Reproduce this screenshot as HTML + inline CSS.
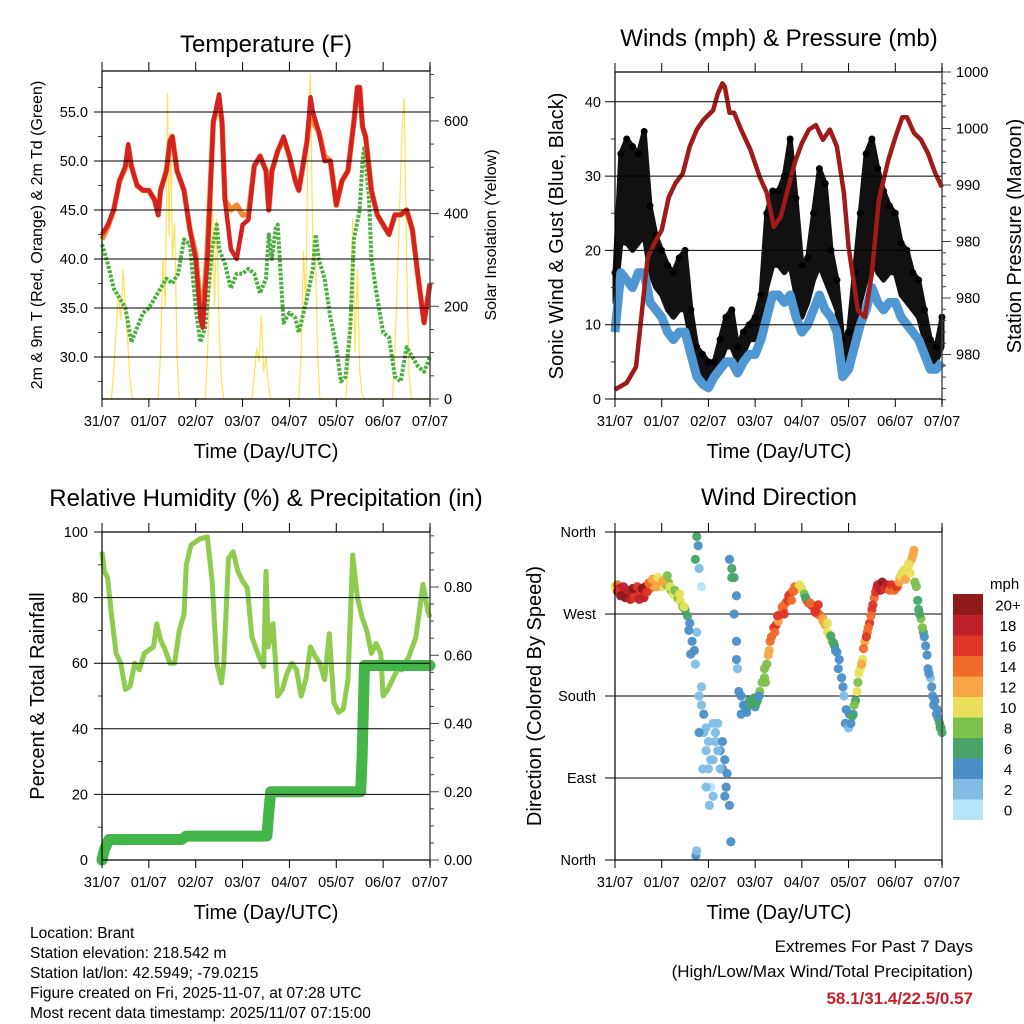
<!DOCTYPE html>
<html><head><meta charset="utf-8"><style>
html,body{margin:0;padding:0;background:#fff;width:1024px;height:1024px;overflow:hidden}
svg{display:block;font-family:"Liberation Sans",sans-serif}
</style></head><body>
<svg id="fig" width="1024" height="1024" viewBox="0 0 1024 1024">
<text x="266" y="52" font-size="24" text-anchor="middle">Temperature (F)</text>
<text x="779" y="46" font-size="24" text-anchor="middle">Winds (mph) &amp; Pressure (mb)</text>
<text x="266" y="506" font-size="24" text-anchor="middle">Relative Humidity (%) &amp; Precipitation (in)</text>
<text x="779" y="505" font-size="24" text-anchor="middle">Wind Direction</text>
<text x="266" y="458" font-size="20" text-anchor="middle">Time (Day/UTC)</text>
<text x="779" y="458" font-size="20" text-anchor="middle">Time (Day/UTC)</text>
<text x="266" y="919" font-size="20" text-anchor="middle">Time (Day/UTC)</text>
<text x="779" y="919" font-size="20" text-anchor="middle">Time (Day/UTC)</text>
<text transform="translate(42,235) rotate(-90)" font-size="16" text-anchor="middle">2m &amp; 9m T (Red, Orange) &amp; 2m Td (Green)</text>
<text transform="translate(496,235) rotate(-90)" font-size="16" text-anchor="middle">Solar Insolation (Yellow)</text>
<text transform="translate(563,236) rotate(-90)" font-size="20" text-anchor="middle">Sonic Wind &amp; Gust (Blue, Black)</text>
<text transform="translate(1021,236) rotate(-90)" font-size="20" text-anchor="middle">Station Pressure (Maroon)</text>
<text transform="translate(44,696) rotate(-90)" font-size="20" text-anchor="middle">Percent &amp; Total Rainfall</text>
<text transform="translate(541,696) rotate(-90)" font-size="20" text-anchor="middle">Direction (Colored By Speed)</text>
<g font-size="15.5">
<text x="30" y="938">Location: Brant</text>
<text x="30" y="958">Station elevation: 218.542 m</text>
<text x="30" y="978">Station lat/lon: 42.5949; -79.0215</text>
<text x="30" y="998">Figure created on Fri, 2025-11-07, at 07:28 UTC</text>
<text x="30" y="1018">Most recent data timestamp: 2025/11/07 07:15:00</text>
</g>
<text x="973" y="952" font-size="17" text-anchor="end">Extremes For Past 7 Days</text>
<text x="973" y="977" font-size="17" text-anchor="end">(High/Low/Max Wind/Total Precipitation)</text>
<text x="973" y="1004" font-size="17" font-weight="bold" fill="#c8202a" text-anchor="end">58.1/31.4/22.5/0.57</text>
</svg>
<script>
// ---------- DATA ----------
const dayLabels = ["31/07","01/07","02/07","03/07","04/07","05/07","06/07","07/07"];
const tempTime = [0,0.125,0.25,0.375,0.5,0.56,0.625,0.75,0.875,1.0,1.125,1.2,1.25,1.375,1.45,1.5,1.6,1.75,1.875,2.0,2.1,2.15,2.25,2.375,2.5,2.56,2.625,2.75,2.875,3.0,3.125,3.25,3.375,3.5,3.56,3.625,3.75,3.875,4.0,4.125,4.2,4.375,4.45,4.5,4.625,4.75,4.875,5.0,5.125,5.25,5.375,5.45,5.5,5.56,5.625,5.75,5.875,6.0,6.125,6.25,6.375,6.5,6.625,6.75,6.875,7.0];
const temp2m = [42.5,43.5,45,48,49.5,51.7,49.5,47.5,47,47,46,44.5,47,49,52,52.5,49,47,43,40,34,33,40,54,56.8,54,46,41,40,43.5,44,49.5,50.5,49,45,49,51,52.5,50.5,48,47,52,56.5,55,53,50,50,45.5,48,49,54,57.5,57.5,53.5,52.5,47,44.5,43.5,42.5,44.5,44.5,45,43,38,33.5,37.5];
const temp9m = [42,43.3,45,48,49.3,51.5,49.5,47.5,47,47,46,44.5,47,49,52,52.5,49,47,43,40.5,35,34,41,54,56,54,46,45,45.5,44.5,44.5,49.5,50.5,49,45,49,51,52.3,50.5,48,47,52,55.5,54,53,50.5,50,45.5,48,49,54,57.5,57.5,53.5,52.5,47,44.5,43.5,42.5,44.5,44.5,45,43,38,33.5,37.5];
const dewTime = [0,0.125,0.25,0.375,0.5,0.625,0.75,0.875,1.0,1.125,1.25,1.375,1.5,1.625,1.75,1.875,2.0,2.1,2.2,2.35,2.45,2.5,2.625,2.75,2.875,3.0,3.125,3.25,3.375,3.5,3.56,3.625,3.7,3.75,3.875,4.0,4.125,4.2,4.375,4.5,4.56,4.625,4.75,4.875,5.0,5.1,5.2,5.3,5.375,5.5,5.56,5.6,5.7,5.75,5.875,6.0,6.125,6.25,6.375,6.5,6.625,6.75,6.875,7.0];
const dewpoint = [41.5,39.5,37,36,35,31.5,33,34.5,35,36,37,38,37.5,38.5,42,41.5,35,31.5,33,41,43.5,41,39.5,37,38.5,38.5,39,38.5,36.5,38,42.5,40,43,43.5,33.5,34.5,34,32.5,36,39,42.5,40,38,34,31,27.5,28,33,42,45,50,51.5,46,40,36,32.5,32,28,27.5,31,30,29,28.5,30];
const solarTime = [0,0.2,0.25,0.3,0.35,0.4,0.45,0.5,0.55,0.6,0.65,1.2,1.25,1.3,1.35,1.4,1.43,1.47,1.5,1.55,1.6,1.65,2.2,2.25,2.3,2.35,2.4,2.45,2.5,2.55,2.6,3.2,3.25,3.3,3.35,3.4,3.45,3.5,3.55,3.6,4.2,4.25,4.3,4.35,4.4,4.45,4.5,4.55,4.6,4.65,5.2,5.25,5.3,5.35,5.4,5.45,5.5,5.55,5.6,6.2,6.25,6.3,6.35,6.4,6.45,6.5,6.55,6.6,7.0];
const solar = [0,0,60,150,230,170,280,200,120,40,0,0,100,300,200,660,350,570,300,380,100,0,0,90,250,440,200,390,150,40,0,0,50,110,80,180,60,90,30,0,0,100,320,200,600,700,300,320,100,0,0,60,150,390,100,280,60,10,0,0,100,250,400,580,650,300,60,0,0];
const windTime = [0,0.125,0.25,0.375,0.5,0.625,0.75,0.875,1.0,1.125,1.25,1.375,1.5,1.625,1.75,1.875,2.0,2.125,2.25,2.375,2.5,2.625,2.75,2.875,3.0,3.125,3.25,3.375,3.5,3.625,3.75,3.875,4.0,4.125,4.25,4.375,4.5,4.625,4.75,4.875,5.0,5.125,5.25,5.375,5.5,5.625,5.75,5.875,6.0,6.125,6.25,6.375,6.5,6.625,6.75,6.875,7.0];
const windSpeed = [9,17,16,15,17,17,13,12,11,9,8,9,9,6,3,2,1.5,3,4,5,5,3.5,5,6,6,8,11,14,14,13,14,11,9,10,12,14,12,11,9,3,4,7,10,12,15,13,12,13,13,11,10,9,8,6,4,4,5];
const gustHigh = [17,33,35,34,33,36,26,22,20,18,17,19,20,12,7,6,5,5,8,11,12,7,9,10,11,14,25,28,28,30,35,27,18,19,25,31,29,20,16,8,9,17,25,33,35,31,28,26,25,21,20,17,16,12,8,7,11];
const gustLow = [13,21,21,20,21,22,17,15,14,12,11,12,12,8,4,3,2,4,5,7,7,5,6,8,8,10,15,18,18,17,18,14,11,13,16,18,16,14,12,4,5,9,13,16,19,17,16,17,17,14,13,12,11,8,5,5,7];
const presTime = [0,0.25,0.45,0.55,0.7,0.85,1.0,1.15,1.3,1.45,1.6,1.75,1.9,2.1,2.2,2.3,2.35,2.45,2.55,2.7,2.9,3.1,3.25,3.4,3.55,3.7,3.85,4.0,4.15,4.3,4.45,4.6,4.75,4.9,5.0,5.2,5.35,5.5,5.65,5.85,6.0,6.15,6.25,6.4,6.55,6.7,6.85,7.0];
const pressure = [971.9,972.5,973.9,977.8,983.6,984.9,986,988.9,990.2,991,993.4,994.9,995.8,996.6,998.1,999,998.7,996.4,996.4,994.9,993.1,990.7,989.3,986.3,987.2,989.6,992,993.7,994.9,995.3,994,994.9,993.4,989.3,984.5,978.9,978.3,982.2,988.7,992.2,994.2,996,996,994.6,994,992.8,991.1,989.8];
const presTicks = [1000,995,990,985,980,975];
const presTickLabels = ["1000","1000","990","980","980","980"];
const rhTime = [0,0.05,0.12,0.2,0.3,0.4,0.5,0.6,0.7,0.8,0.9,1.0,1.1,1.17,1.25,1.35,1.45,1.55,1.65,1.75,1.8,1.9,2.1,2.25,2.35,2.45,2.55,2.6,2.7,2.8,2.9,3.0,3.1,3.2,3.35,3.45,3.5,3.55,3.65,3.75,3.85,3.95,4.05,4.15,4.25,4.35,4.45,4.55,4.65,4.75,4.85,4.95,5.05,5.15,5.25,5.35,5.45,5.55,5.65,5.75,5.85,5.95,6.0,6.1,6.2,6.3,6.4,6.55,6.7,6.85,6.95,7.0];
const rhValues = [94,88,86,75,63,60,52,53,60,58,63,64,65,72,67,64,60,60,70,75,90,96,98,98.5,85,60,54,60,92,94,88,85,83,68,62,59,88,65,72,50,52,57,60,58,50,55,65,62,60,55,69,48,45,46,55,93,80,74,70,63,66,63,50,52,55,58,58,62,68,84,76,74];
const rainTime = [0,0.05,0.15,1.7,1.8,3.52,3.56,3.6,5.52,5.55,5.58,5.6,7];
const rainTotal = [0,0.03,0.06,0.06,0.07,0.07,0.14,0.2,0.2,0.3,0.46,0.57,0.57];
const dirTime = [0,0.05,0.1,0.15,0.2,0.25,0.3,0.35,0.4,0.45,0.5,0.55,0.6,0.65,0.7,0.75,0.8,0.85,0.9,0.95,1.0,1.05,1.1,1.15,1.2,1.25,1.3,1.35,1.4,1.45,1.5,1.55,1.6,1.65,1.7,1.72,1.73,1.75,1.75,1.78,1.8,1.8,1.85,1.85,1.9,1.95,2.0,2.05,2.1,2.15,2.2,2.25,2.3,2.35,2.45,2.5,2.55,2.55,2.6,2.6,2.62,2.7,2.75,2.8,2.85,2.9,2.95,3.0,3.05,3.1,3.15,3.2,3.25,3.3,3.35,3.4,3.45,3.5,3.55,3.6,3.65,3.7,3.75,3.8,3.85,3.9,4.0,4.05,4.1,4.15,4.2,4.25,4.3,4.35,4.4,4.45,4.5,4.55,4.6,4.65,4.7,4.75,4.8,4.85,4.9,4.93,5.0,5.05,5.1,5.15,5.2,5.25,5.3,5.35,5.4,5.45,5.5,5.55,5.6,5.65,5.7,5.75,5.8,5.85,5.9,5.95,6.0,6.05,6.1,6.15,6.2,6.25,6.3,6.35,6.4,6.45,6.5,6.55,6.6,6.65,6.7,6.75,6.8,6.85,6.9,6.92,6.96,7.0,
0.05,0.12,0.18,0.22,0.28,0.33,0.38,0.42,0.48,0.52,0.58,0.62,0.68,0.72,0.8,0.88,0.92,1.02,1.12,1.18,1.28,1.38,1.48,1.58,1.62,1.85,1.9,1.95,2.0,2.05,2.1,2.15,2.2,2.25,2.3,2.35,2.4,2.38,1.8,1.88,1.95,2.02,2.1,1.75,1.72,2.45,2.48,2.5,2.6,2.65,2.7,2.78,2.82,2.88,2.92,2.98,3.02,3.08,3.2,3.22,3.28,3.32,3.42,3.48,3.58,3.62,3.72,3.78,3.82,3.95,4.08,4.18,4.28,4.35,4.45,4.55,4.62,4.68,4.72,4.78,4.88,4.95,5.02,5.08,5.12,5.18,5.22,5.28,5.32,5.38,5.42,5.48,5.52,5.58,5.62,5.68,5.72,5.78,5.82,5.88,5.92,5.98,6.02,6.08,6.12,6.18,6.22,6.28,6.32,6.38,6.42,6.48,6.52,6.58,6.62,6.68,6.72,6.78,6.82,6.88,6.95,6.98];
const dirDeg = [300,302,298,296,292,294,290,292,294,290,294,296,292,300,296,298,302,305,300,302,300,304,302,304,296,292,290,287,284,278,275,268,260,240,230,215,5,355,250,345,320,180,300,170,140,120,100,80,110,130,150,120,100,70,330,320,310,270,290,240,210,180,170,165,170,172,175,168,175,185,195,200,215,230,245,255,258,262,270,275,282,285,292,295,300,298,298,292,285,282,280,278,275,270,268,262,258,250,245,240,235,228,220,200,180,150,145,150,160,175,195,210,220,240,250,260,275,288,298,300,302,302,300,298,300,300,298,300,310,315,318,320,325,330,340,300,275,265,250,235,210,200,180,175,165,155,145,140,
295,290,300,288,296,286,298,288,300,286,298,288,294,304,308,300,310,306,312,300,296,292,278,252,226,190,160,145,130,110,150,140,120,100,130,110,95,80,140,100,80,60,70,10,330,60,20,310,220,185,160,170,162,175,170,178,172,180,210,195,225,240,250,268,278,270,290,285,295,302,288,282,272,280,265,260,246,238,230,210,190,165,160,158,170,185,205,215,232,245,255,268,280,294,302,296,305,298,302,296,302,296,300,305,312,318,308,325,315,335,305,285,270,255,245,225,205,190,170,160,150,145];
const dirSpeed = [10,14,18,18,20,18,16,18,16,16,18,16,16,20,16,14,12,12,12,12,10,10,8,8,8,10,10,8,10,8,6,6,4,4,4,2,4,6,2,4,2,2,0,2,2,2,2,0,2,2,2,4,4,4,4,6,6,4,4,4,2,4,4,4,6,6,6,4,6,8,8,8,8,12,14,16,16,12,14,14,14,16,14,14,14,12,10,8,14,16,16,16,16,16,14,12,12,10,10,8,6,4,4,4,2,4,2,4,4,6,8,10,10,12,14,16,16,14,16,18,18,18,16,16,16,14,16,14,12,12,12,12,10,12,12,8,6,8,6,4,4,2,4,4,4,4,6,6,
16,20,18,20,18,18,20,16,16,18,20,18,16,14,12,12,10,12,8,10,8,10,10,4,4,2,4,2,2,2,2,2,2,2,4,4,4,4,4,2,2,2,2,2,6,4,4,6,4,4,4,4,4,6,6,6,6,4,8,8,12,14,14,16,14,16,16,14,14,10,6,14,16,16,12,10,6,6,4,4,4,4,4,6,8,10,10,12,14,16,14,14,16,16,18,18,20,16,18,14,16,14,16,12,10,10,12,10,10,12,8,6,6,8,4,4,4,4,4,4,6,6];
const speedBins = ["0","2","4","6","8","10","12","14","16","18","20+"];
const binColors = ["#b8e4f8","#80bce6","#4a8fc8","#48a46a","#7bc14a","#e8e05a","#f7a647","#f06a2a","#dd3526","#c0202a","#8f1a1a"];

// ---------- HELPERS ----------
const NS = "http://www.w3.org/2000/svg";
const fig = document.getElementById("fig");
function mk(tag, attrs, parent){const e=document.createElementNS(NS,tag);for(const k in attrs)e.setAttribute(k,attrs[k]);(parent||fig).appendChild(e);return e;}
function linePath(ts, vs, xf, yf){return ts.map((t,i)=>(i?"L":"M")+xf(t).toFixed(1)+","+yf(vs[i]).toFixed(1)).join("");}
function makeX(x0,x1){return t=>x0+t/7*(x1-x0);}

function frame(g, P, xf){
  const top = mk("line",{x1:P.x0,y1:P.y0,x2:P.x1,y2:P.y0,stroke:"#000","stroke-width":1.2},g);
  
  
  const bot = mk("line",{x1:P.x0,y1:P.y1,x2:P.x1,y2:P.y1,stroke:"#000","stroke-width":1.2},g);
  
  
  const lft = mk("line",{x1:P.x0,y1:P.y0,x2:P.x0,y2:P.y1,stroke:"#000","stroke-width":1.2},g);
  
  
  const rgt = mk("line",{x1:P.x1,y1:P.y0-5,x2:P.x1,y2:P.y1+5,stroke:"#444","stroke-width":1.4},g);
  
  
  for(let d=0; d<=7; d++){
    const x=xf(d);
    const tb = mk("line",{x1:x,y1:P.y1,x2:x,y2:P.y1+8,stroke:"#000"},g);
    
    
    const tt = mk("line",{x1:x,y1:P.y0,x2:x,y2:P.y0-9,stroke:"#000"},g);
    
    
    const lb = mk("text",{x:x,y:P.y1+27,"font-size":14.5,"text-anchor":"middle"},g);
    
    
    lb.textContent = dayLabels[d];
  }
}
function hgrid(g,P,y,extendLeft){
  const l = mk("line",{x1:P.x0-extendLeft,y1:y,x2:P.x1,y2:y,stroke:"#000","stroke-width":1},g);
  
  
}
function leftLabel(g,P,y,txt){
  const t = mk("text",{x:P.x0-14,y:y+5,"font-size":14.5,"text-anchor":"end"},g);
  
  
  t.textContent = txt;
}
function rightTick(g,P,y,len){
  const l = mk("line",{x1:P.x1,y1:y,x2:P.x1+len,y2:y,stroke:"#444"},g);
  
  
}
function rightLabel(g,P,y,txt){
  const t = mk("text",{x:P.x1+14,y:y+5,"font-size":14.5},g);
  
  
  t.textContent = txt;
}
function leftMinor(g,P,y){
  const l = mk("line",{x1:P.x0,y1:y,x2:P.x0-4,y2:y,stroke:"#444"},g);
  
  
}

// ---------- PANEL 1: TEMPERATURE ----------
{
  const P={x0:102,x1:430,y0:71,y1:399};
  const xf=makeX(P.x0,P.x1);
  const yT=v=>112-(v-55)*9.8;
  const yS=s=>399-s*0.4635;
  const g=mk("g",{});
  
  
  const sol=mk("path",{d:linePath(solarTime,solar,xf,yS),fill:"none",stroke:"#ffe25a","stroke-width":1.2},g);
  
  
  const dw=mk("path",{d:linePath(dewTime,dewpoint,xf,yT),fill:"none",stroke:"#4cb040","stroke-width":4,"stroke-dasharray":"3 1.5","stroke-linejoin":"round"},g);
  
  
  const t9=mk("path",{d:linePath(tempTime,temp9m,xf,yT),fill:"none",stroke:"#f58a30","stroke-width":5.5,"stroke-linejoin":"round"},g);
  
  
  const t2=mk("path",{d:linePath(tempTime,temp2m,xf,yT),fill:"none",stroke:"#d42222","stroke-width":4.5,"stroke-linejoin":"round"},g);
  
  
  for(let v=30; v<=55; v+=5){hgrid(g,P,yT(v),8);leftLabel(g,P,yT(v),v.toFixed(1));}
  for(let v=27.5; v<=57.5; v+=5){leftMinor(g,P,yT(v));}
  for(let s=0; s<=700; s+=50){rightTick(g,P,yS(s), s%200===0?9:4);}
  for(let s=0; s<=600; s+=200){rightLabel(g,P,yS(s),String(s));}
  frame(g,P,xf);
}

// ---------- PANEL 2: WINDS ----------
{
  const P={x0:615,x1:942,y0:72,y1:399};
  const xf=makeX(P.x0,P.x1);
  const yW=w=>399-w*7.43;
  const yP=p=>72+(1000-p)*11.3;
  const g=mk("g",{});
  
  
  let d="";
  windTime.forEach((t,i)=>{d+=(i?"L":"M")+xf(t).toFixed(1)+","+yW(gustHigh[i]).toFixed(1);});
  for(let i=windTime.length-1;i>=0;i--){d+="L"+xf(windTime[i]).toFixed(1)+","+yW(gustLow[i]).toFixed(1);}
  const band=mk("path",{d:d+"Z",fill:"#111",stroke:"#111","stroke-width":5,"stroke-linejoin":"round"},g);
  
  
  windTime.forEach((t,i)=>{
    const c=mk("circle",{cx:xf(t),cy:yW(gustHigh[i]),r:3.5,fill:"#000"},g);
    
    
  });
  const ws=mk("path",{d:linePath(windTime,windSpeed,xf,yW),fill:"none",stroke:"#4f97d3","stroke-width":9,"stroke-linejoin":"round"},g);
  
  
  const pr=mk("path",{d:linePath(presTime,pressure,xf,yP),fill:"none",stroke:"#a01a1a","stroke-width":4.5,"stroke-linejoin":"round"},g);
  
  
  for(let w=0; w<=40; w+=10){hgrid(g,P,yW(w),10);leftLabel(g,P,yW(w),String(w));}
  for(let w=5; w<=40; w+=10){leftMinor(g,P,yW(w));}
  for(let p=1000; p>=971; p-=1){rightTick(g,P,yP(p), p%5===0?9:4);}
  presTicks.forEach((p,i)=>rightLabel(g,P,yP(p),presTickLabels[i]));
  frame(g,P,xf);
}

// ---------- PANEL 3: RH & PRECIP ----------
{
  const P={x0:102,x1:430,y0:532,y1:860};
  const xf=makeX(P.x0,P.x1);
  const yH=h=>860-h*3.28;
  const yR=r=>860-r*341.25;
  const g=mk("g",{});
  
  
  const rh=mk("path",{d:linePath(rhTime,rhValues,xf,yH),fill:"none",stroke:"#8fcb4e","stroke-width":5,"stroke-linejoin":"round"},g);
  
  
  const rn=mk("path",{d:linePath(rainTime,rainTotal,xf,yR),fill:"none",stroke:"#44b548","stroke-width":11,"stroke-linejoin":"round","stroke-linecap":"round"},g);
  
  
  for(let h=0; h<=100; h+=20){if(h>0&&h<100)hgrid(g,P,yH(h),8);leftLabel(g,P,yH(h),String(h));}
  for(let h=10; h<=90; h+=20){leftMinor(g,P,yH(h));}
  const top=mk("line",{x1:P.x0-8,y1:yH(100),x2:P.x0,y2:yH(100),stroke:"#000"},g);
  
  
  for(let r=0; r<=0.96; r+=0.05){rightTick(g,P,yR(r), Math.round(r*100)%20===0?9:4);}
  for(let r=0; r<=0.8; r+=0.2){rightLabel(g,P,yR(r),r.toFixed(2));}
  frame(g,P,xf);
}

// ---------- PANEL 4: WIND DIRECTION ----------
{
  const P={x0:615,x1:942,y0:532,y1:860};
  const xf=makeX(P.x0,P.x1);
  const yD=d=>860-d*(328/360);
  const g=mk("g",{});
  
  
  const names=["North","East","South","West","North"];
  for(let k=0;k<=4;k++){
    const y=yD(k*90);
    hgrid(g,P,y,10);
    const t=mk("text",{x:P.x0-19,y:y+5,"font-size":14.5,"text-anchor":"end"},g);
    
    
    t.textContent=names[k];
  }
  dirTime.forEach((t,i)=>{
    const b=Math.min(Math.floor(dirSpeed[i]/2),10);
    const c=mk("circle",{cx:xf(t),cy:yD(dirDeg[i]),r:4.6,fill:binColors[b],"fill-opacity":0.95},g);
    
    
  });
  frame(g,P,xf);
  const lg=mk("g",{});
  
  
  const unit=mk("text",{x:990,y:589,"font-size":15},lg);
  
  
  unit.textContent="mph";
  const h=20.5;
  for(let i=0;i<speedBins.length;i++){
    const y=594+(10-i)*h;
    const r=mk("rect",{x:953,y:y,width:30,height:h+0.5,fill:binColors[i]},lg);
    
    
    const t=mk("text",{x:1008,y:y+h/2+6,"font-size":15,"text-anchor":"middle"},lg);
    
    
    t.textContent=speedBins[i];
  }
}
</script>
</body></html>
